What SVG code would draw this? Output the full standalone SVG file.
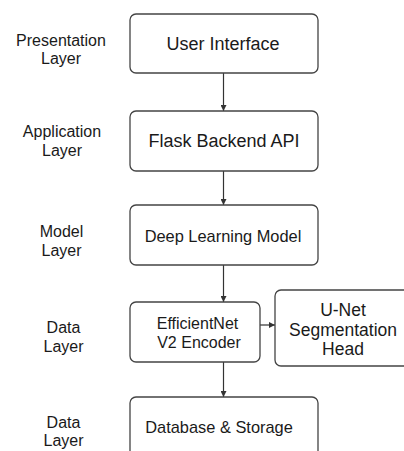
<svg xmlns="http://www.w3.org/2000/svg" width="404" height="451" viewBox="0 0 404 451">
<defs>
<marker id="ah" markerWidth="6" markerHeight="6" refX="6" refY="3" orient="auto" markerUnits="userSpaceOnUse">
<path d="M0,0 L6,3 L0,6 Z" fill="#333"/>
</marker>
<style>
.box{fill:#fff;stroke:#444;stroke-width:1.3}
.t{font-family:"Liberation Sans",Arial,sans-serif;fill:#1a1a1a;text-anchor:middle}
.lbl{font-size:16px}
.edge{stroke:#333;stroke-width:1.2;fill:none;marker-end:url(#ah)}
</style>
</defs>
<rect width="404" height="451" fill="#fff"/>
<g id="labels">
<text class="t lbl" x="61" y="46">Presentation</text>
<text class="t lbl" x="61" y="64">Layer</text>
<text class="t lbl" x="62" y="137">Application</text>
<text class="t lbl" x="62" y="156">Layer</text>
<text class="t lbl" x="61.5" y="237">Model</text>
<text class="t lbl" x="61.5" y="256">Layer</text>
<text class="t lbl" x="63.5" y="333">Data</text>
<text class="t lbl" x="63.5" y="352">Layer</text>
<text class="t lbl" x="63.5" y="428">Data</text>
<text class="t lbl" x="63.5" y="446">Layer</text>
</g>
<g id="connectors">
<line class="edge" x1="223.5" y1="73" x2="223.5" y2="111"/>
<line class="edge" x1="223.5" y1="171" x2="223.5" y2="205"/>
<line class="edge" x1="223.5" y1="265" x2="223.5" y2="302"/>
<line class="edge" x1="260" y1="325" x2="275" y2="325"/>
<line class="edge" x1="223.5" y1="362" x2="223.5" y2="397"/>
</g>
<g id="ui">
<rect class="box" x="130" y="14" width="188" height="59" rx="6"/>
<text class="t" x="223" y="50" font-size="18">User Interface</text>
</g>
<g id="flask">
<rect class="box" x="130" y="111" width="188" height="60" rx="6"/>
<text class="t" x="224" y="147" font-size="18">Flask Backend API</text>
</g>
<g id="dlm">
<rect class="box" x="130" y="205" width="188" height="60" rx="6"/>
<text class="t" x="223" y="242" font-size="16.4">Deep Learning Model</text>
</g>
<g id="effnet">
<rect class="box" x="130" y="302" width="130" height="60" rx="6"/>
<text class="t" x="197.5" y="328.5" font-size="16">EfficientNet</text>
<text class="t" x="199" y="347.5" font-size="16">V2 Encoder</text>
</g>
<g id="unet">
<rect class="box" x="275" y="290" width="136" height="76" rx="6"/>
<text class="t" x="343" y="316" font-size="17.5">U-Net</text>
<text class="t" x="343" y="335.5" font-size="17.5">Segmentation</text>
<text class="t" x="343" y="354.5" font-size="17.5">Head</text>
</g>
<g id="db">
<rect class="box" x="130" y="397" width="188" height="70" rx="6"/>
<text class="t" x="219" y="433" font-size="16.4">Database &amp; Storage</text>
</g>
</svg>
